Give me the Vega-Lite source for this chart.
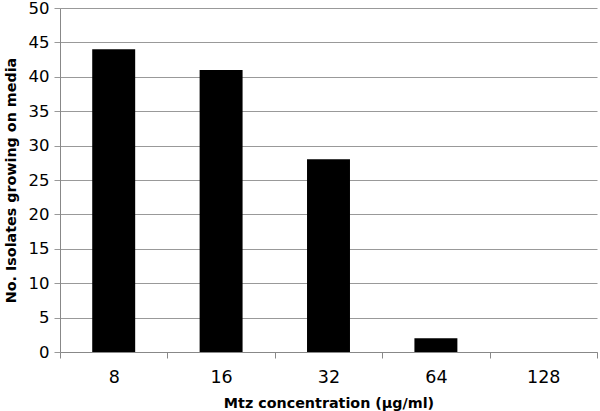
{
  "$schema": "https://vega.github.io/schema/vega-lite/v6.json",
  "width": 537,
  "height": 344,
  "autosize": {"type": "none"},
  "padding": {"left": 60, "top": 8, "right": 3, "bottom": 59},
  "background": "white",
  "config": {
    "view": {"stroke": null},
    "font": "DejaVu Sans"
  },
  "data": {
    "values": [
      {"conc": "8", "count": 44},
      {"conc": "16", "count": 41},
      {"conc": "32", "count": 28},
      {"conc": "64", "count": 2},
      {"conc": "128", "count": 0}
    ]
  },
  "mark": {"type": "bar", "color": "black", "width": {"band": 0.4}},
  "encoding": {
    "x": {
      "field": "conc",
      "type": "ordinal",
      "sort": null,
      "scale": {"paddingInner": 0, "paddingOuter": 0},
      "axis": {
        "title": "Mtz concentration (µg/ml)",
        "titleFont": "DejaVu Sans",
        "titleFontSize": 14.3,
        "titleFontWeight": "bold",
        "titleColor": "black",
        "titlePadding": 11,
        "labelAngle": 0,
        "labelFontSize": 17.5,
        "labelFontWeight": "normal",
        "labelColor": "black",
        "labelPadding": 10,
        "tickBand": "extent",
        "tickSize": 6,
        "tickColor": "#888888",
        "domainColor": "#888888",
        "grid": false
      }
    },
    "y": {
      "field": "count",
      "type": "quantitative",
      "scale": {"domain": [0, 50], "nice": false},
      "axis": {
        "title": "No. Isolates growing on media",
        "titleFont": "DejaVu Sans",
        "titleFontSize": 14.3,
        "titleFontWeight": "bold",
        "titleColor": "black",
        "titlePadding": 10,
        "values": [0, 5, 10, 15, 20, 25, 30, 35, 40, 45, 50],
        "labelFontSize": 16.5,
        "labelColor": "black",
        "labelPadding": 5,
        "tickSize": 6,
        "tickColor": "#999999",
        "domainColor": "#888888",
        "grid": true,
        "gridColor": "#999999",
        "gridWidth": 1,
        "gridOpacity": 1
      }
    }
  }
}
